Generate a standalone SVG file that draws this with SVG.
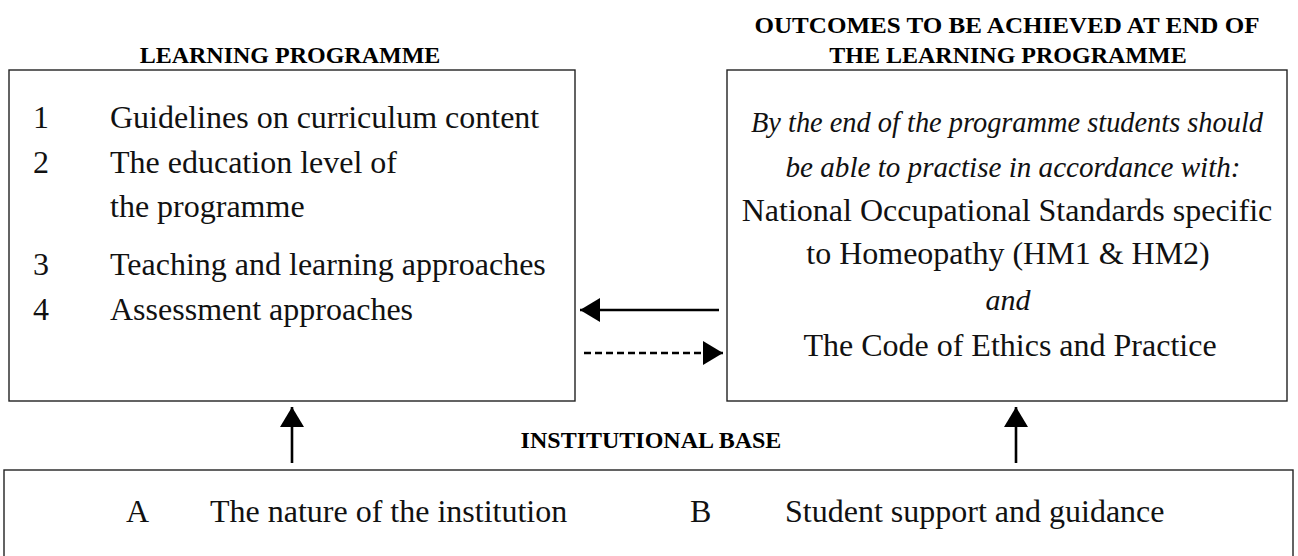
<svg xmlns="http://www.w3.org/2000/svg" width="1298" height="556" viewBox="0 0 1298 556">
<style>
.box{fill:#fff;stroke:#222;stroke-width:1.4}
.hd{font-family:"Liberation Serif",serif;font-weight:bold;font-size:24px;fill:#000}
.t{font-family:"Liberation Serif",serif;font-size:32px;fill:#111}
.i{font-style:italic;font-size:30px}
.c{text-anchor:middle}
.ln{stroke:#000;stroke-width:2.6;fill:none}
</style>
<defs>
<marker id="ah" viewBox="0 0 20 24" refX="20" refY="12" markerWidth="20" markerHeight="24" markerUnits="userSpaceOnUse" orient="auto">
<path d="M0,0 L20,12 L0,24 Z" fill="#000"/>
</marker>
</defs>
<g id="learning">
<text class="hd c" x="290" y="63">LEARNING PROGRAMME</text>
<rect class="box" x="9" y="70" width="566" height="331"/>
<text class="t" x="33" y="128">1</text><text class="t" x="110" y="128">Guidelines on curriculum content</text>
<text class="t" x="33" y="173">2</text><text class="t" x="110" y="173">The education level of</text>
<text class="t" x="110" y="217">the programme</text>
<text class="t" x="33" y="275">3</text><text class="t" x="110" y="275">Teaching and learning approaches</text>
<text class="t" x="33" y="320">4</text><text class="t" x="110" y="320">Assessment approaches</text>
</g>
<g id="outcomes">
<text class="hd c" x="1007" y="33" font-size="25" textLength="505" lengthAdjust="spacingAndGlyphs">OUTCOMES TO BE ACHIEVED AT END OF</text>
<text class="hd c" x="1008" y="63" font-size="25">THE LEARNING PROGRAMME</text>
<rect class="box" x="727" y="70" width="560" height="331"/>
<text class="t i c" x="1007" y="132" textLength="512" lengthAdjust="spacingAndGlyphs">By the end of the programme students should</text>
<text class="t i c" x="1013" y="177" textLength="455" lengthAdjust="spacingAndGlyphs">be able to practise in accordance with:</text>
<text class="t c" x="1007" y="221">National Occupational Standards specific</text>
<text class="t c" x="1008" y="264">to Homeopathy (HM1 &amp; HM2)</text>
<text class="t i c" x="1008" y="310">and</text>
<text class="t c" x="1010" y="356">The Code of Ethics and Practice</text>
</g>
<g id="institution">
<text class="hd c" x="651" y="448" font-size="25">INSTITUTIONAL BASE</text>
<rect class="box" x="4" y="470" width="1289" height="100"/>
<text class="t" x="126" y="522">A</text><text class="t" x="210" y="522">The nature of the institution</text>
<text class="t" x="690" y="522">B</text><text class="t" x="785" y="522">Student support and guidance</text>
</g>
<g id="connectors">
<line class="ln" x1="719" y1="310" x2="580" y2="310" marker-end="url(#ah)"/>
<line class="ln" x1="584" y1="353" x2="723" y2="353" stroke-dasharray="7,4" marker-end="url(#ah)"/>
<line class="ln" x1="292" y1="463" x2="292" y2="407" marker-end="url(#ah)"/>
<line class="ln" x1="1016" y1="463" x2="1016" y2="407" marker-end="url(#ah)"/>
</g>
</svg>
